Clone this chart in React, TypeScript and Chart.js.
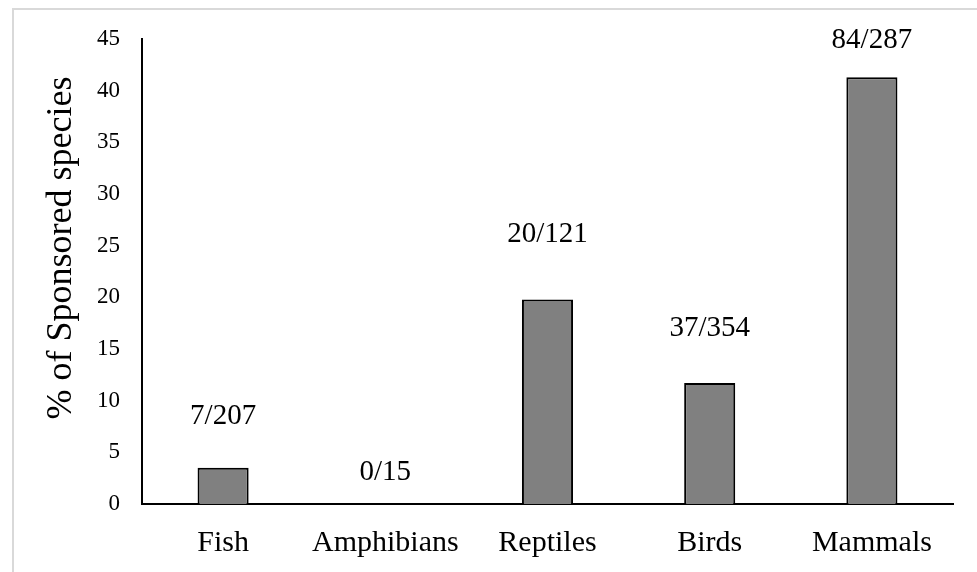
import React, { useEffect, useRef } from "react";
import { Chart, registerables } from "chart.js";

Chart.register(...registerables);

const categories = ["Fish", "Amphibians", "Reptiles", "Birds", "Mammals"];
const percentSponsored = [3.5, 0, 19.8, 11.7, 41.3];
const countLabels = ["7/207", "0/15", "20/121", "37/354", "84/287"];
const countLabelLevels = [8.6, 3.2, 26.2, 17.1, 45.0];
const yTitle = "% of Sponsored species";

const FONT = "'Liberation Serif', 'Times New Roman', serif";

const labelPlugin = {
  id: "countLabels",
  afterDatasetsDraw(chart: any) {
    const ctx = chart.ctx;
    const meta = chart.getDatasetMeta(0);
    const y = chart.scales.y;
    ctx.save();
    ctx.fillStyle = "#000";
    ctx.font = `29px ${FONT}`;
    ctx.textAlign = "center";
    ctx.textBaseline = "middle";
    meta.data.forEach((bar: any, i: number) => {
      ctx.fillText(countLabels[i], bar.x, y.getPixelForValue(countLabelLevels[i]) + 1);
    });
    // y-axis title
    ctx.translate(71, 248);
    ctx.rotate(-Math.PI / 2);
    ctx.font = `36px ${FONT}`;
    ctx.textBaseline = "alphabetic";
    ctx.fillText(yTitle, 0, 0);
    ctx.restore();
  },
};

export default function App() {
  const ref = useRef<HTMLCanvasElement>(null);
  useEffect(() => {
    if (!ref.current) return;
    const chart = new Chart(ref.current, {
      type: "bar",
      data: {
        labels: categories,
        datasets: [
          {
            data: percentSponsored,
            backgroundColor: "#808080",
            borderColor: "#000",
            borderWidth: 2,
            categoryPercentage: 1,
            barPercentage: 0.315,
          },
        ],
      },
      options: {
        animation: false,
        responsive: false,
        maintainAspectRatio: false,
        layout: { padding: { top: 39, right: 24, left: 0, bottom: 0 } },
        plugins: { legend: { display: false }, tooltip: { enabled: false } },
        scales: {
          x: {
            grid: { display: false, drawTicks: false },
            border: { display: true, color: "#000", width: 2 },
            ticks: { color: "#000", font: { family: FONT, size: 30 }, padding: 21, maxRotation: 0 },
            afterFit(scale: any) {
              scale.height = 68;
            },
          },
          y: {
            min: 0,
            max: 45,
            grid: { display: false, drawTicks: false },
            border: { display: true, color: "#000", width: 2 },
            ticks: { stepSize: 5, color: "#000", font: { family: FONT, size: 23 }, padding: 22 },
            afterFit(scale: any) {
              scale.width = 142;
            },
          },
        },
      },
      plugins: [labelPlugin],
    });
    return () => chart.destroy();
  }, []);
  return (
    <div style={{ position: "fixed", left: 0, top: 0, width: 977, height: 572, background: "#fff", overflow: "hidden" }}>
      <div
        style={{
          position: "absolute",
          left: 12,
          top: 8,
          width: 1000,
          height: 600,
          borderLeft: "2px solid #d9d9d9",
          borderTop: "2px solid #d9d9d9",
        }}
      />
      <canvas ref={ref} width={977} height={572} style={{ position: "absolute", left: 0, top: 0 }} />
    </div>
  );
}
